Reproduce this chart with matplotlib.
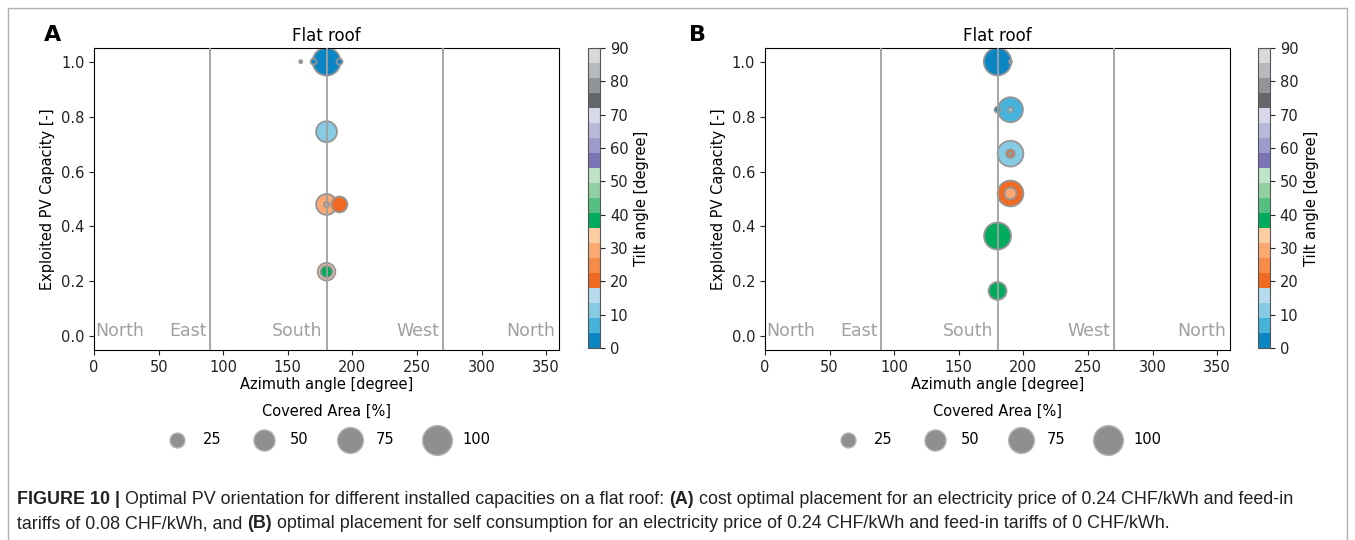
import matplotlib
matplotlib.use("Agg")
import matplotlib.pyplot as plt
import numpy as np
from matplotlib.cm import ScalarMappable
from matplotlib.colors import ListedColormap, Normalize
from matplotlib.patches import Rectangle
from matplotlib.text import Annotation

# ---------------- data ---------------- #
# panel A: cost optimal placement
a_azimuth = [180, 170, 190, 160, 180, 180, 190, 180, 180, 180]
a_capacity = [1.0, 1.0, 1.0, 1.0, 0.745, 0.48, 0.48, 0.48, 0.235, 0.235]
a_tilt = [2, 2, 2, 8, 12, 28, 20, 28, 33, 40]
a_area = [87, 4, 4, 1, 49, 49, 28, 3, 35, 16]

# panel B: self consumption
b_azimuth = [180, 190, 180, 190, 190, 190, 190, 190, 190, 190, 180, 180]
b_capacity = [1.0, 1.0, 0.825, 0.825, 0.825, 0.665, 0.665, 0.665, 0.52, 0.52, 0.365, 0.165]
b_tilt = [2, 8, 2, 6, 10, 13, 20, 12, 20, 28, 40, 40]
b_area = [85, 1, 4, 70, 3, 75, 8, 1, 75, 16, 82, 36]

legend_areas = [25, 50, 75, 100]
directions = ["North", "East", "South", "West", "North"]
direction_pos = [1, 87, 177, 267, 357]
panel_labels = ["A", "B"]

caption_1 = [
    ("FIGURE 10 |", "bold"),
    (" Optimal PV orientation for different installed capacities on a flat roof: ", "normal"),
    ("(A)", "bold"),
    (" cost optimal placement for an electricity price of 0.24 CHF/kWh and feed-in", "normal"),
]
caption_2 = [
    ("tariffs of 0.08 CHF/kWh, and ", "normal"),
    ("(B)", "bold"),
    (" optimal placement for self consumption for an electricity price of 0.24 CHF/kWh "
     "and feed-in tariffs of 0 CHF/kWh.", "normal"),
]

# tab20c-like palette as it appears in the printed figure
tilt_colors = [
    "#0a86c4", "#45b3dc", "#86cbe4", "#b5dbed",
    "#f26a22", "#f68b4a", "#fba872", "#fdcda2",
    "#00ab5e", "#55bf82", "#92cfa2", "#bee3c7",
    "#7a74b6", "#9d9bcc", "#b8b8da", "#d7d8ea",
    "#64676a", "#929597", "#b7babc", "#d7d9da",
]

SIZE_SCALE = 4.6  # marker area (pt^2) per percent covered area
cmap = ListedColormap(tilt_colors)
norm = Normalize(vmin=0, vmax=90)

plt.rcParams["font.family"] = "DejaVu Sans"
fig = plt.figure(figsize=(13.55, 5.40), dpi=100)


def draw_panel(left, cbar_left, label_x, azimuth, capacity, tilt, area, label):
    ax = fig.add_axes([left, 0.3519, 0.3432, 0.5593])
    order = np.argsort(area)[::-1]
    az = np.array(azimuth)[order]
    cap = np.array(capacity)[order]
    tl = np.array(tilt)[order]
    ar = np.array(area)[order]
    ax.scatter(az, cap, s=ar * SIZE_SCALE, c=tl, cmap=cmap, norm=norm,
               edgecolors="#959595", linewidths=1.3, zorder=2)
    for x in [90, 180, 270]:
        ax.axvline(x, color="#a0a0a0", lw=1.3, zorder=3)
    for name, x in zip(directions, direction_pos):
        ha = "left" if x < 10 else "right"
        ax.text(x, 0.02, name, ha=ha, va="center", color="#a0a0a0", fontsize=12.5)
    ax.set_xlim(0, 360)
    ax.set_ylim(-0.05, 1.05)
    ax.set_xticks(np.arange(0, 360, 50))
    ax.set_yticks(np.arange(0, 1.01, 0.2))
    ax.tick_params(labelsize=10.5, colors="#222222")
    ax.set_title("Flat roof", fontsize=12, pad=5)
    ax.set_xlabel("Azimuth angle [degree]", fontsize=10.5, labelpad=2)
    ax.set_ylabel("Exploited PV Capacity [-]", fontsize=10.5)

    handles = [ax.scatter([], [], s=a * SIZE_SCALE, color="#8e8f91",
                          edgecolors="#b5b5b5", linewidths=1.0) for a in legend_areas]
    ax.legend(handles, [str(a) for a in legend_areas], title="Covered Area [%]",
              loc="upper center", bbox_to_anchor=(0.5, -0.16), ncol=4,
              frameon=False, fontsize=10.5, title_fontsize=10.5,
              columnspacing=1.9, handletextpad=0.75, labelspacing=0.85,
              borderaxespad=0)

    cax = fig.add_axes([cbar_left, 0.3556, 0.0089, 0.5556])
    cb = fig.colorbar(ScalarMappable(norm=norm, cmap=cmap), cax=cax)
    cb.set_ticks(np.arange(0, 91, 10))
    cb.ax.tick_params(labelsize=10.5, colors="#222222")
    cb.outline.set_edgecolor("#555555")
    cb.set_label("Tilt angle [degree]", fontsize=10.5)

    fig.text(label_x, 0.935, label, fontsize=16, fontweight="bold",
             ha="center", va="center")
    return ax


draw_panel(0.0694, 0.4340, 0.0384, a_azimuth, a_capacity, a_tilt, a_area, panel_labels[0])
draw_panel(0.5646, 0.9284, 0.5145, b_azimuth, b_capacity, b_tilt, b_area, panel_labels[1])

# frame around the figure
fig.add_artist(Rectangle((0.006, -0.02), 0.988, 1.005, transform=fig.transFigure,
                         fill=False, edgecolor="#b0b0b0", lw=1.0))


def caption_line(parts, y):
    # chain the pieces so bold and normal runs follow each other
    last = None
    for text, weight in parts:
        kw = dict(fontsize=12.9, fontweight=weight, family="Liberation Sans",
                  color="#222222")
        if last is None:
            last = fig.text(0.0125, y, text, va="baseline", ha="left", **kw)
        else:
            last = fig.add_artist(Annotation(text, xy=(1, 0), xycoords=last,
                                             va="bottom", ha="left", **kw))


caption_line(caption_1, 0.0667)
caption_line(caption_2, 0.0222)

fig.savefig("out.png", dpi=100)
